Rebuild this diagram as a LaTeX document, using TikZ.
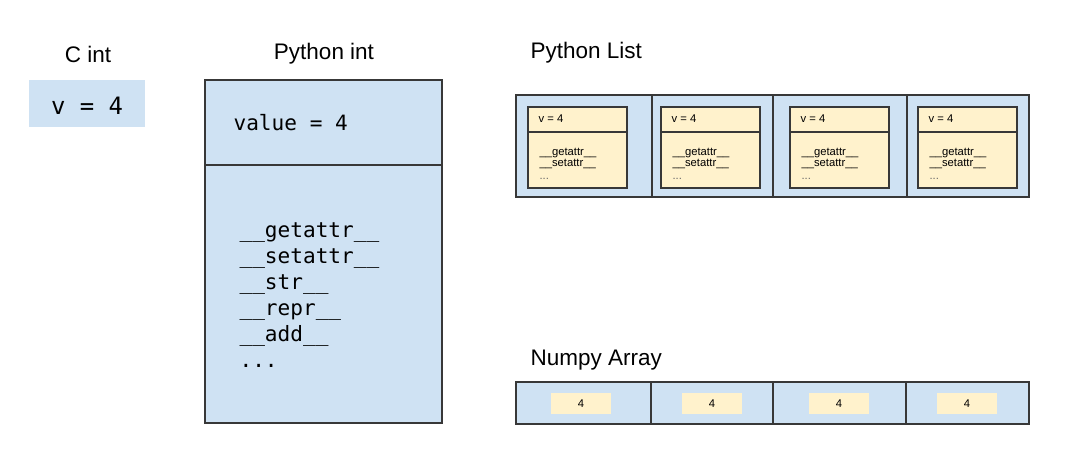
\documentclass[tikz,border=0pt]{standalone}
\usepackage{fontspec}
\setmainfont{Liberation Sans}
\setmonofont{DejaVu Sans Mono}
\usetikzlibrary{positioning}
\definecolor{boxblue}{HTML}{CFE2F3}
\definecolor{boxyellow}{HTML}{FFF2CC}
\definecolor{edge}{HTML}{383838}

\begin{document}
\begin{tikzpicture}[x=0.025cm,y=-0.025cm,line width=0.8pt,
	title/.style={font=\fontsize{16}{19}\selectfont, inner sep=0pt},
	code/.style={font=\ttfamily\fontsize{15}{18}\selectfont, inner sep=0pt},
	tiny/.style={font=\fontsize{8}{9}\selectfont, inner sep=0pt}]
	\useasboundingbox (0,0) rectangle (1074,474);
	% C int
	\node[title] (cintlabel) at (88,54) {C int};
	\fill[boxblue] (29,80) rectangle (145,127);
	\node[code, font=\ttfamily\fontsize{17}{20}\selectfont] (cint) at (87,105.5) {v = 4};
	% Python int
	\node[title] (pyintlabel) at (324,54) {Python int};
	\filldraw[fill=boxblue, draw=edge] (205,80) rectangle (442,423);
	\draw[edge] (205,165) -- (442,165);
	\node[code, anchor=base west] (pyvalue) at (233,130) {value = 4};
	\foreach \m [count=\i] in {getattr,setattr,str,repr,add}
	{
		\node[code, anchor=base west] (pym\i) at (239,{211+26*\i}) {\_\_\m\_\_};
	}
	\node[code, anchor=base west] (pymdots) at (239,367) {...};
	% Python List
	\node[title, anchor=west] (listlabel) at (530,53) {Python List};
	\filldraw[fill=boxblue, draw=edge] (516,95) rectangle (1029,197);
	\foreach \d in {652,773,907} \draw[edge] (\d,95) -- (\d,197);
	\foreach \bx [count=\i] in {528,661,790,918}
	{
		\filldraw[fill=boxyellow, draw=edge] (\bx,107) rectangle ++(99,81);
		\draw[edge] (\bx,132) -- ++(99,0);
		\node[tiny, anchor=west] (lv\i) at (\bx+10,119) {v = 4};
		\node[tiny, anchor=base west] (lg\i) at (\bx+11,155) {\_\_getattr\_\_};
		\node[tiny, anchor=base west] (ls\i) at (\bx+11,166) {\_\_setattr\_\_};
		\node[tiny, anchor=base west, text=black!60] (ld\i) at (\bx+11,179) {...};
	}
	% Numpy Array
	\node[title, anchor=west] (nplabel) at (530,360) {Numpy Array};
	\filldraw[fill=boxblue, draw=edge] (516,382) rectangle (1029,424);
	\foreach \d in {651,773,906} \draw[edge] (\d,382) -- (\d,424);
	\foreach \yl [count=\i] in {551,682,809,937}
	{
		\fill[boxyellow] (\yl,393) rectangle ++(60,21);
		\node[tiny] (np\i) at (\yl+30,403.5) {4};
	}
\end{tikzpicture}
\end{document}
